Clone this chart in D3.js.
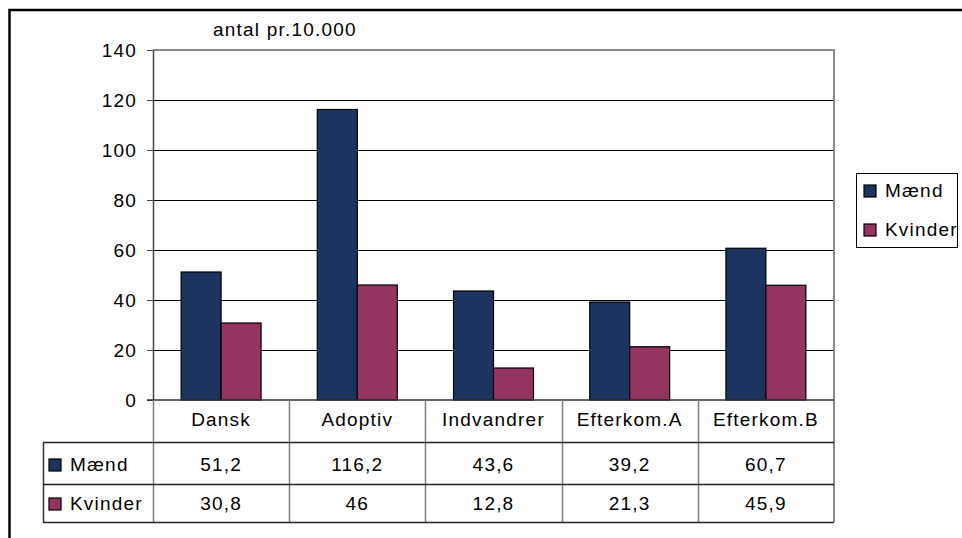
<!DOCTYPE html>
<html>
<head>
<meta charset="utf-8">
<script src="https://cdn.jsdelivr.net/npm/d3@7"></script>
<style>
  body { margin: 0; background: #fff; }
  svg text { font-family: "Liberation Sans", Arial, sans-serif; font-size: 19px; letter-spacing: 1.2px; fill: #000; }
</style>
</head>
<body>
<div id="chart"></div>
<script>

var categories = ['Dansk', 'Adoptiv', 'Indvandrer', 'Efterkom.A', 'Efterkom.B'];
var series = ['Mænd', 'Kvinder'];
var maend = [51.2, 116.2, 43.6, 39.2, 60.7];
var kvinder = [30.8, 46, 12.8, 21.3, 45.9];
var yTicks = [0, 20, 40, 60, 80, 100, 120, 140];
var colors = ['#1d3461', '#943461'];

var margin = {top: 50, left: 153, right: 128, bottom: 138},
    width = 962 - margin.left - margin.right,
    height = 538 - margin.top - margin.bottom;

var svg = d3.select('#chart')
    .append('svg')
      .attr('width', 962)
      .attr('height', 538);

// outer frame of the whole chart
svg.append('rect')
    .attr('x', 9.5).attr('y', 10)
    .attr('width', 1000).attr('height', 600)
    .attr('fill', 'none')
    .attr('stroke', '#000')
    .attr('stroke-width', 2.5);

var g = svg.append('g')
    .attr('transform', 'translate(' + margin.left + ',' + margin.top + ')');

var y = d3.scaleLinear().domain([0, 140]).range([height, 0]);

var x0 = d3.scaleBand().domain(categories).range([0, width])
    .paddingInner(0.413).paddingOuter(0.2065);
var x1 = d3.scaleBand().domain(series).range([0, x0.bandwidth()]);

// grid lines
g.append('g')
    .selectAll('line')
    .data(yTicks.filter(function(d) { return d > 0 && d < 140; }))
    .enter()
    .append('line')
    .attr('x1', 0).attr('x2', width)
    .attr('y1', function(d) { return Math.round(y(d)) + 0.5; })
    .attr('y2', function(d) { return Math.round(y(d)) + 0.5; })
    .attr('stroke', '#000')
    .attr('stroke-width', 1);

// plot frame top and right (gray)
g.append('path')
    .attr('d', 'M0,' + y(140) + 'H' + width + 'V' + (height + 122))
    .attr('fill', 'none')
    .attr('stroke', '#8c8c8c')
    .attr('stroke-width', 2);

// bars
var rows = categories.map(function(c, i) {
    return {cat: c, vals: [maend[i], kvinder[i]]};
});

var groups = g.append('g')
    .selectAll('g')
    .data(rows)
    .enter()
    .append('g')
    .attr('transform', function(d) { return 'translate(' + x0(d.cat) + ',0)'; });

groups.selectAll('rect')
    .data(function(d) { return d.vals.map(function(v, j) { return {s: series[j], v: v, j: j}; }); })
    .enter()
    .append('rect')
    .attr('x', function(d) { return x1(d.s); })
    .attr('y', function(d) { return y(d.v); })
    .attr('width', x1.bandwidth())
    .attr('height', function(d) { return height - y(d.v); })
    .attr('fill', function(d) { return colors[d.j]; })
    .attr('stroke', '#000')
    .attr('stroke-width', 1.2);

// y axis
var yAxis = g.append('g')
    .call(d3.axisLeft(y).tickValues(yTicks).tickSize(6).tickPadding(10).tickSizeOuter(0));
yAxis.select('.domain').attr('stroke', '#444').attr('stroke-width', 1.5);
yAxis.selectAll('.tick line').attr('stroke', '#444');
yAxis.selectAll('.tick text').attr('dy', '0.36em').style('font-size', '19px');
yAxis.attr('font-family', null).attr('font-size', null);

// zero line
g.append('line')
    .attr('x1', -6).attr('x2', width)
    .attr('y1', height).attr('y2', height)
    .attr('stroke', '#333').attr('stroke-width', 1.5);

// data table
var rowTop = height, rowH = [42, 42, 38];
var tableLeft = 43 - margin.left;
var r1 = rowTop + rowH[0], r2 = r1 + rowH[1], r3 = r2 + rowH[2];

var bounds = d3.range(categories.length + 1).map(function(i) { return x0.step() * i; });
g.append('g')
    .selectAll('line')
    .data(bounds.slice(0, -1))
    .enter()
    .append('line')
    .attr('x1', function(d) { return Math.round(d) + 0.5; })
    .attr('x2', function(d) { return Math.round(d) + 0.5; })
    .attr('y1', rowTop).attr('y2', r3)
    .attr('stroke', '#7f7f7f').attr('stroke-width', 1.5);

g.append('line')
    .attr('x1', tableLeft + 0.5).attr('x2', tableLeft + 0.5)
    .attr('y1', r1).attr('y2', r3)
    .attr('stroke', '#333').attr('stroke-width', 1.5);

g.append('g')
    .selectAll('line')
    .data([r1, r2, r3])
    .enter()
    .append('line')
    .attr('x1', tableLeft).attr('x2', width)
    .attr('y1', function(d) { return d + 0.5; })
    .attr('y2', function(d) { return d + 0.5; })
    .attr('stroke', '#222').attr('stroke-width', 1.5);

g.append('g')
    .selectAll('text')
    .data(categories)
    .enter()
    .append('text')
    .attr('x', function(d) { return x0(d) + x0.bandwidth() / 2; })
    .attr('y', rowTop + 26)
    .attr('text-anchor', 'middle')
    .text(function(d) { return d; });

var fmt = function(v) { return String(v).replace('.', ','); };
[maend, kvinder].forEach(function(vals, j) {
    var base = j === 0 ? r1 + 29 : r2 + 26;
    g.append('g')
        .selectAll('text')
        .data(vals)
        .enter()
        .append('text')
        .attr('x', function(d, i) { return x0(categories[i]) + x0.bandwidth() / 2; })
        .attr('y', base)
        .attr('text-anchor', 'middle')
        .text(function(d) { return fmt(d); });

    g.append('rect')
        .attr('x', tableLeft + 6).attr('y', base - 12)
        .attr('width', 12).attr('height', 12)
        .attr('fill', colors[j]).attr('stroke', '#000').attr('stroke-width', 1.2);
    g.append('text')
        .attr('x', tableLeft + 27).attr('y', base)
        .text(series[j]);
});

// title
svg.append('text')
    .attr('x', 213).attr('y', 36)
    .text('antal pr.10.000');

// legend
var legend = svg.append('g').attr('transform', 'translate(856,173)');
legend.append('rect')
    .attr('x', 0.5).attr('y', 0.5)
    .attr('width', 101).attr('height', 74)
    .attr('fill', '#fff').attr('stroke', '#000').attr('stroke-width', 1);
series.forEach(function(s, j) {
    var yy = 24 + j * 39;
    legend.append('rect')
        .attr('x', 8).attr('y', yy - 12)
        .attr('width', 12).attr('height', 12)
        .attr('fill', colors[j]).attr('stroke', '#000').attr('stroke-width', 1.2);
    legend.append('text')
        .attr('x', 29).attr('y', yy)
        .text(s);
});

</script>
</body>
</html>
